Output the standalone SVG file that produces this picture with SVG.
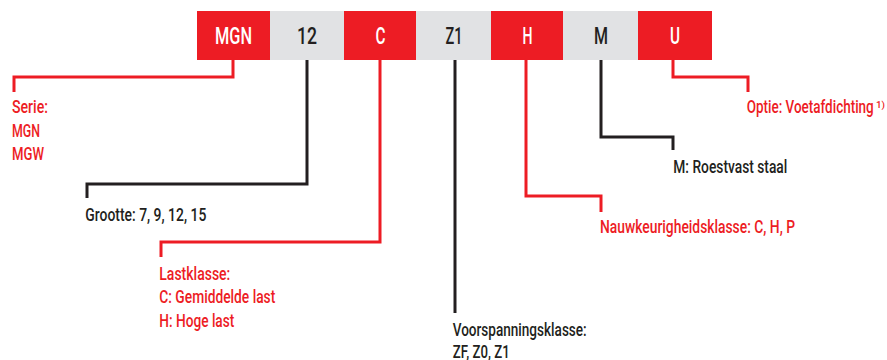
<svg xmlns="http://www.w3.org/2000/svg" width="887" height="360" viewBox="0 0 887 360">
<style>
.red{fill:#ED1C24}
.gray{fill:#E1E2E4}
.bt{font-family:Roboto,"Liberation Sans",sans-serif;font-weight:500;font-size:24px;text-anchor:middle}
.w{fill:#FFFFFF}
.k{fill:#231F20}
.lb{font-family:Roboto,"Liberation Sans",sans-serif;font-weight:500;font-size:18px}
.lr{fill:#ED1C24}
.lk{fill:#231F20}
.cr{fill:none;stroke:#ED1C24;stroke-width:3}
.ck{fill:none;stroke:#231F20;stroke-width:3}
</style>
<rect width="887" height="360" fill="#FFFFFF"/>
<g id="box-mgn"><rect class="red" x="197" y="11" width="73" height="49"/><text class="bt w" x="233.5" y="44" textLength="37" lengthAdjust="spacingAndGlyphs">MGN</text></g>
<g id="box-12"><rect class="gray" x="270" y="11" width="74" height="49"/><text class="bt k" x="307" y="44" textLength="20" lengthAdjust="spacingAndGlyphs">12</text></g>
<g id="box-c"><rect class="red" x="344" y="11" width="72" height="49"/><text class="bt w" x="380.5" y="44" textLength="10" lengthAdjust="spacingAndGlyphs">C</text></g>
<g id="box-z1"><rect class="gray" x="416" y="11" width="75" height="49"/><text class="bt k" x="454" y="44" textLength="17" lengthAdjust="spacingAndGlyphs">Z1</text></g>
<g id="box-h"><rect class="red" x="491" y="11" width="72" height="49"/><text class="bt w" x="527.5" y="44" textLength="10" lengthAdjust="spacingAndGlyphs">H</text></g>
<g id="box-m"><rect class="gray" x="563" y="11" width="75" height="49"/><text class="bt k" x="601" y="44" textLength="14" lengthAdjust="spacingAndGlyphs">M</text></g>
<g id="box-u"><rect class="red" x="638" y="11" width="74" height="49"/><text class="bt w" x="675" y="44" textLength="10" lengthAdjust="spacingAndGlyphs">U</text></g>

<g id="connectors">
<polyline class="cr" points="233,60 233,77 14,77 14,92"/>
<polyline class="ck" points="307,60 307,184 87,184 87,198"/>
<polyline class="cr" points="380,60 380,242 161,242 161,257"/>
<polyline class="ck" points="455,60 455,313"/>
<polyline class="cr" points="526,60 526,196 601,196 601,212"/>
<polyline class="ck" points="601,60 601,137 673,137 673,150"/>
<polyline class="cr" points="673,60 673,77 748,77 748,92"/>
</g>

<g id="label-serie" class="lb lr">
<text x="12" y="113.3" textLength="36" lengthAdjust="spacingAndGlyphs">Serie:</text>
<text x="12" y="136.7" textLength="28" lengthAdjust="spacingAndGlyphs">MGN</text>
<text x="12" y="160" textLength="32" lengthAdjust="spacingAndGlyphs">MGW</text>
</g>
<g id="label-grootte" class="lb lk">
<text x="85.3" y="221" textLength="121" lengthAdjust="spacingAndGlyphs">Grootte: 7, 9, 12, 15</text>
</g>
<g id="label-lastklasse" class="lb lr">
<text x="159.3" y="280" textLength="71" lengthAdjust="spacingAndGlyphs">Lastklasse:</text>
<text x="159.3" y="303.3" textLength="116" lengthAdjust="spacingAndGlyphs">C: Gemiddelde last</text>
<text x="159.3" y="326.7" textLength="75" lengthAdjust="spacingAndGlyphs">H: Hoge last</text>
</g>
<g id="label-voorspanning" class="lb lk">
<text x="452.7" y="336" textLength="134" lengthAdjust="spacingAndGlyphs">Voorspanningsklasse:</text>
<text x="452.7" y="358" textLength="57" lengthAdjust="spacingAndGlyphs">ZF, Z0, Z1</text>
</g>
<g id="label-nauwkeurigheid" class="lb lr">
<text x="600" y="233.3" textLength="195" lengthAdjust="spacingAndGlyphs">Nauwkeurigheidsklasse: C, H, P</text>
</g>
<g id="label-materiaal" class="lb lk">
<text x="673.3" y="173.3" textLength="114" lengthAdjust="spacingAndGlyphs">M: Roestvast staal</text>
</g>
<g id="label-optie" class="lb lr">
<text x="746.7" y="113.3" textLength="127" lengthAdjust="spacingAndGlyphs">Optie: Voetafdichting</text>
<text x="876" y="107.7" font-size="9" textLength="9" lengthAdjust="spacingAndGlyphs">1)</text>
</g>
</svg>
